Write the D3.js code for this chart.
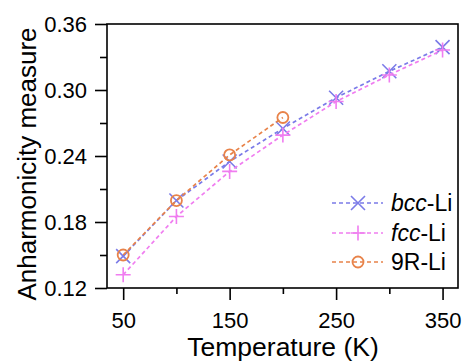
<!DOCTYPE html>
<html><head><meta charset="utf-8">
<script src="https://cdn.jsdelivr.net/npm/d3@7"></script>
<style>body{margin:0;background:#fff}svg{display:block}svg text{font-family:"Liberation Sans",Arial,sans-serif}</style>
</head><body><div id="chart"></div>
<script>
const temps = [50, 100, 150, 200, 250, 300, 350];
const bccValues = [0.149, 0.1995, 0.235, 0.265, 0.293, 0.317, 0.339];
const fccValues = [0.132, 0.185, 0.226, 0.259, 0.2895, 0.3137, 0.3364];
const r9Temps = [50, 100, 150, 200];
const r9Values = [0.150, 0.1995, 0.241, 0.275];
const xTicks = [50, 150, 250, 350];
const xMinor = [100, 200, 300];
const yTicks = [0.12, 0.18, 0.24, 0.30, 0.36];
const yMinor = [0.15, 0.21, 0.27, 0.33];

const W = 464, H = 361;
const L = 107, R = 458, T = 24, B = 288;
const svg = d3.select("#chart").append("svg").attr("width", W).attr("height", H);
const x = d3.scaleLinear().domain([34.8, 364.5]).range([L, R]);
const y = d3.scaleLinear().domain([0.12, 0.36]).range([B, T]);

svg.append("rect").attr("x", L).attr("y", T).attr("width", R - L).attr("height", B - T)
  .attr("fill", "none").attr("stroke", "#000").attr("stroke-width", 1.6);

const xAx = svg.append("g").attr("transform", `translate(0,${B})`)
  .call(d3.axisBottom(x).tickValues(xTicks).tickSize(12).tickSizeOuter(0).tickFormat(d3.format("d")));
svg.append("g").attr("transform", `translate(0,${B})`)
  .call(d3.axisBottom(x).tickValues(xMinor).tickSize(6).tickSizeOuter(0).tickFormat(""));
const yAx = svg.append("g").attr("transform", `translate(${L},0)`)
  .call(d3.axisLeft(y).tickValues(yTicks).tickSize(12).tickSizeOuter(0).tickFormat(d3.format(".2f")));
svg.append("g").attr("transform", `translate(${L},0)`)
  .call(d3.axisLeft(y).tickValues(yMinor).tickSize(7).tickSizeOuter(0).tickFormat(""));
svg.selectAll(".domain").remove();
svg.selectAll("g").attr("font-family", null).attr("font-size", null);
svg.selectAll(".tick line").attr("stroke", "#000").attr("stroke-width", 1.6);
xAx.selectAll("text").style("font-size", "22px").attr("fill", "#000").attr("dy", null).attr("y", 40);
yAx.selectAll("text").style("font-size", "22px").attr("fill", "#000").attr("x", -20).attr("dy", "0.35em");

svg.append("text").attr("x", 283).attr("y", 356).attr("text-anchor", "middle")
  .style("font-size", "26.5px").text("Temperature (K)");
svg.append("text").attr("transform", "translate(36,164) rotate(-90)").attr("text-anchor", "middle")
  .style("font-size", "26px").text("Anharmonicity measure");

const series = [
  {name: "bcc", xs: temps, ys: bccValues, color: "#7b7be8", marker: "x"},
  {name: "fcc", xs: temps, ys: fccValues, color: "#f07df0", marker: "+"},
  {name: "9R", xs: r9Temps, ys: r9Values, color: "#e8834a", marker: "o"}
];
const line = d3.line().x(d => x(d[0])).y(d => y(d[1]));

function drawMarker(g, type, cx, cy, color) {
  if (type === "x") {
    const s = 7;
    g.append("path").attr("d", `M${cx-s},${cy-s}L${cx+s},${cy+s}M${cx-s},${cy+s}L${cx+s},${cy-s}`)
      .attr("stroke", color).attr("stroke-width", 1.6).attr("fill", "none");
  } else if (type === "+") {
    const s = 7.5;
    g.append("path").attr("d", `M${cx-s},${cy}L${cx+s},${cy}M${cx},${cy-s}L${cx},${cy+s}`)
      .attr("stroke", color).attr("stroke-width", 1.6).attr("fill", "none");
  } else {
    g.append("circle").attr("cx", cx).attr("cy", cy).attr("r", 5.5)
      .attr("stroke", color).attr("stroke-width", 1.8).attr("fill", "none");
  }
}

series.forEach(s => {
  const pts = s.xs.map((t, i) => [t, s.ys[i]]);
  svg.append("path").datum(pts).attr("d", line).attr("fill", "none")
    .attr("stroke", s.color).attr("stroke-width", 1.7).attr("stroke-dasharray", "4,3");
  const g = svg.append("g");
  pts.forEach(p => drawMarker(g, s.marker, x(p[0]), y(p[1]), s.color));
});

const legY = [203, 233, 262];
series.forEach((s, i) => {
  const g = svg.append("g");
  g.append("line").attr("x1", 332).attr("x2", 383).attr("y1", legY[i]).attr("y2", legY[i])
    .attr("stroke", s.color).attr("stroke-width", 1.7).attr("stroke-dasharray", "4,3");
  drawMarker(g, s.marker, 358, legY[i], s.color);
  const t = g.append("text").attr("x", 391).attr("y", legY[i]).attr("dy", "0.36em").style("font-size", "23px");
  if (s.name === "9R") {
    t.text("9R-Li");
  } else {
    t.append("tspan").attr("font-style", "italic").text(s.name);
    t.append("tspan").text("-Li");
  }
});
</script></body></html>
